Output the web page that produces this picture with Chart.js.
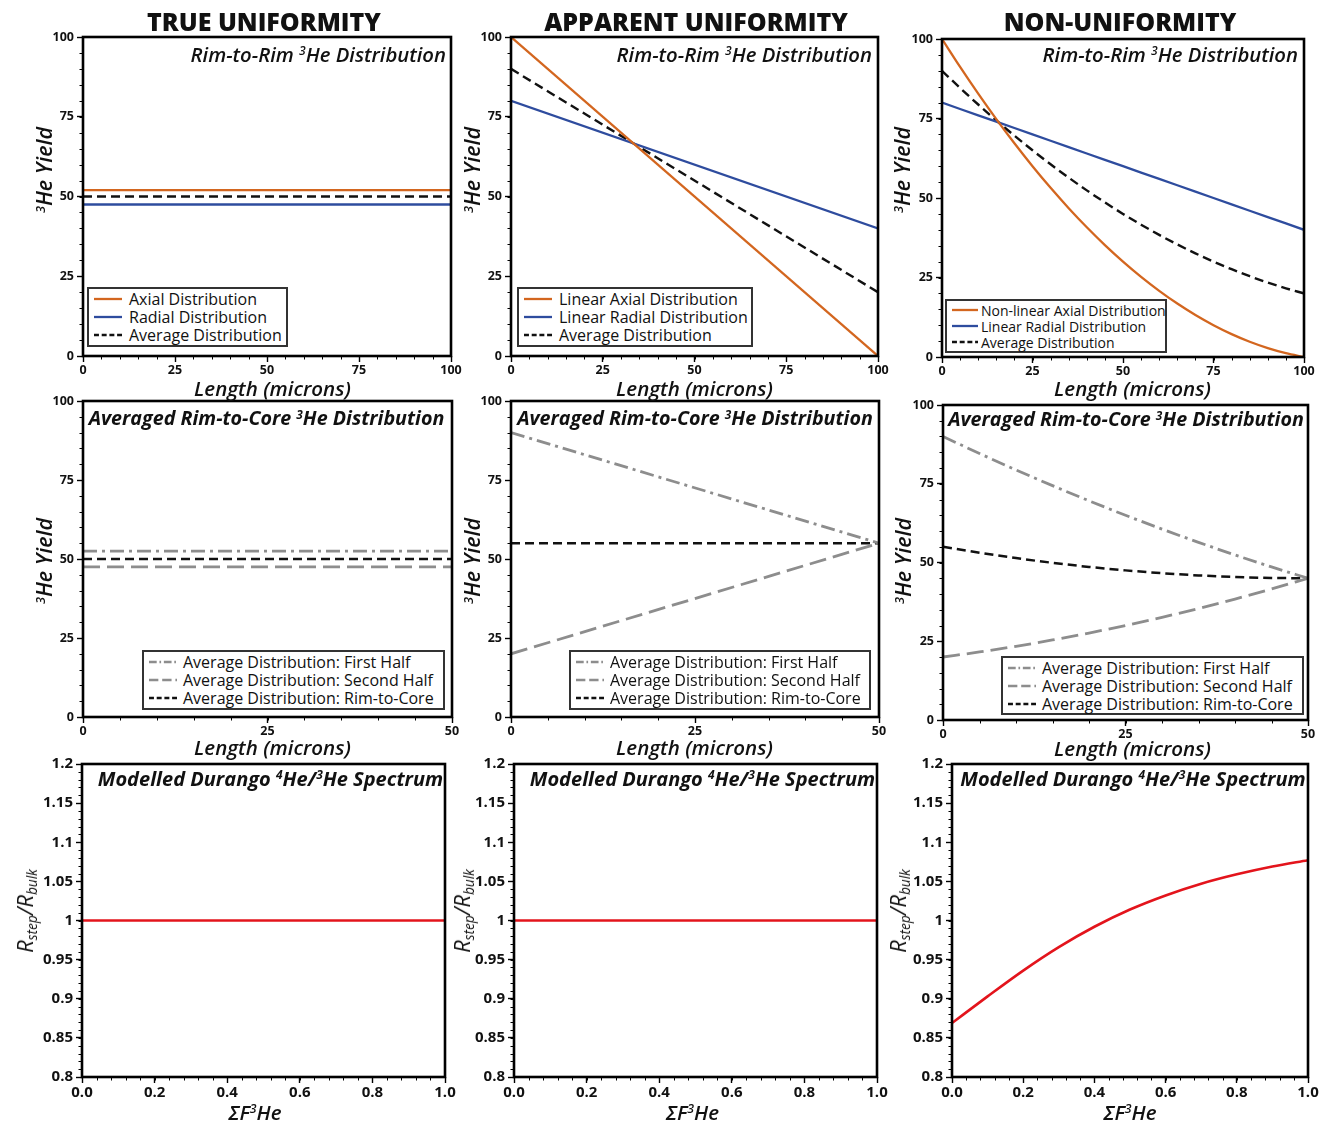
<!DOCTYPE html>
<html><head><meta charset="utf-8">
<script src="https://cdn.jsdelivr.net/npm/chart.js@4.4.1/dist/chart.umd.min.js"></script>
<style>
html,body{margin:0;padding:0;background:#fff;}
body{width:1327px;height:1123px;position:relative;overflow:hidden;font-family:'Open Sans',sans-serif;color:#111;}
.abs{position:absolute;white-space:nowrap;line-height:1;}
.c{transform:translate(-50%,-50%);}
.hdr{font-weight:800;font-size:25px;}
.ttl{font-style:italic;font-size:20px;}
.axt{font-style:italic;font-weight:600;font-size:20.5px;}
.rot{transform:translate(-50%,-50%) rotate(-90deg);}
sup{font-size:0.6em;vertical-align:0;position:relative;top:-0.55em;}
sub{font-size:0.62em;vertical-align:0;position:relative;top:0.32em;}
.leg{position:absolute;border:2px solid #333;background:#fff;box-sizing:border-box;}
.leg .row{display:flex;align-items:center;white-space:nowrap;}
.leg svg{flex:none;}
</style></head>
<body>
<script>
// ---------------- DATA ----------------
const lengthEnds100 = [0, 100];
const lengthEnds50 = [0, 50];
const lengthSteps100 = [0,5,10,15,20,25,30,35,40,45,50,55,60,65,70,75,80,85,90,95,100];
const lengthSteps50 = [0,5,10,15,20,25,30,35,40,45,50];
const fractionEnds = [0, 1];
const fractionSteps = [0,0.1,0.2,0.3,0.4,0.5,0.6,0.7,0.8,0.9,1.0];

// Row 1: rim-to-rim distributions
const trueAxial = [52, 52];
const trueRadial = [47.5, 47.5];
const trueAverage = [50, 50];
const apparentAxial = [100, 0];
const apparentRadial = [80, 40];
const apparentAverage = [90, 20];
const nonAxial = [100,91.2,82.8,74.8,67.2,60,53.2,46.8,40.8,35.2,30,25.2,20.8,16.8,13.2,10,7.2,4.8,2.8,1.2,0];
const nonRadial = [80,78,76,74,72,70,68,66,64,62,60,58,56,54,52,50,48,46,44,42,40];
const nonAverage = [90,84.6,79.4,74.4,69.6,65,60.6,56.4,52.4,48.6,45,41.6,38.4,35.4,32.6,30,27.6,25.4,23.4,21.6,20];

// Row 2: averaged rim-to-core distributions
const trueFirstHalf = [52.5, 52.5];
const trueSecondHalf = [47.5, 47.5];
const trueRimToCore = [50, 50];
const apparentFirstHalf = [90, 55];
const apparentSecondHalf = [20, 55];
const apparentRimToCore = [55, 55];
const nonFirstHalf = [90,84.6,79.4,74.4,69.6,65,60.6,56.4,52.4,48.6,45];
const nonSecondHalf = [20,21.6,23.4,25.4,27.6,30,32.6,35.4,38.4,41.6,45];
const nonRimToCore = [55,53.1,51.4,49.9,48.6,47.5,46.6,45.9,45.4,45.1,45];

// Row 3: modelled 4He/3He spectra
const trueRatio = [1, 1];
const apparentRatio = [1, 1];
const nonRatio = [0.869,0.903,0.936,0.966,0.992,1.014,1.032,1.047,1.059,1.069,1.077];

// Tick labels
const yieldTicks = ['0','25','50','75','100'];
const lengthTicks100 = ['0','25','50','75','100'];
const lengthTicks50 = ['0','25','50'];
const ratioTicks = ['0.8','0.85','0.9','0.95','1','1.05','1.1','1.15','1.2'];
const fractionTicks = ['0.0','0.2','0.4','0.6','0.8','1.0'];

// Text
const columnHeaders = ['TRUE UNIFORMITY','APPARENT UNIFORMITY','NON-UNIFORMITY'];
const legendRow1 = [
  ['Axial Distribution','Radial Distribution','Average Distribution'],
  ['Linear Axial Distribution','Linear Radial Distribution','Average Distribution'],
  ['Non-linear Axial Distribution','Linear Radial Distribution','Average Distribution']
];
const legendRow2 = ['Average Distribution: First Half','Average Distribution: Second Half','Average Distribution: Rim-to-Core'];

// ---------------- STYLES ----------------
const ORANGE = '#d3661f', BLUE = '#2e4c9e', BLACK = '#111111', GRAY = '#8d8d8d', RED = '#e3141c';
const sAxial = {borderColor: ORANGE, borderWidth: 2.3};
const sRadial = {borderColor: BLUE, borderWidth: 2.3};
const sAvg = {borderColor: BLACK, borderWidth: 2.4, borderDash: [9,5]};
const sFirst = {borderColor: GRAY, borderWidth: 2.8, borderDash: [14,5,3,5]};
const sSecond = {borderColor: GRAY, borderWidth: 2.8, borderDash: [17,7]};
const sCore = {borderColor: BLACK, borderWidth: 2.5, borderDash: [9,5]};
const sRed = {borderColor: RED, borderWidth: 2.6};

function pts(xs, ys){ return xs.map((x,i)=>({x:x, y:ys[i]})); }

const yieldAxis = {min:0, max:100, labels:yieldTicks, minor:5, size:12.5};
const ratioAxis = {min:0.8, max:1.2, labels:ratioTicks, minor:0.01, size:15};
const len100 = {min:0, max:100, labels:lengthTicks100, minor:5, size:12.5};
const len50 = {min:0, max:50, labels:lengthTicks50, minor:5, size:12.5};
const frac = {min:0, max:1, labels:fractionTicks, minor:0.04, size:15};

const panels = [
  {rect:[82.5,37,450,356], x:len100, y:yieldAxis, sets:[
    [pts(lengthEnds100,trueAxial), sAxial],[pts(lengthEnds100,trueRadial), sRadial],[pts(lengthEnds100,trueAverage), sAvg]]},
  {rect:[511,37,878,356], x:len100, y:yieldAxis, sets:[
    [pts(lengthEnds100,apparentAxial), sAxial],[pts(lengthEnds100,apparentRadial), sRadial],[pts(lengthEnds100,apparentAverage), sAvg]]},
  {rect:[942,38.5,1304,356], x:len100, y:yieldAxis, sets:[
    [pts(lengthSteps100,nonAxial), sAxial, true],[pts(lengthSteps100,nonRadial), sRadial],[pts(lengthSteps100,nonAverage), sAvg, true]]},
  {rect:[82.5,401,451,717], x:len50, y:yieldAxis, sets:[
    [pts(lengthEnds50,trueFirstHalf), sFirst],[pts(lengthEnds50,trueSecondHalf), sSecond],[pts(lengthEnds50,trueRimToCore), sCore]]},
  {rect:[511,401,879,717], x:len50, y:yieldAxis, sets:[
    [pts(lengthEnds50,apparentFirstHalf), sFirst],[pts(lengthEnds50,apparentSecondHalf), sSecond],[pts(lengthEnds50,apparentRimToCore), sCore]]},
  {rect:[943,405,1308,720], x:len50, y:yieldAxis, sets:[
    [pts(lengthSteps50,nonFirstHalf), sFirst, true],[pts(lengthSteps50,nonSecondHalf), sSecond, true],[pts(lengthSteps50,nonRimToCore), sCore, true]]},
  {rect:[82,763.5,444.5,1076.5], x:frac, y:ratioAxis, sets:[[pts(fractionEnds,trueRatio), sRed]]},
  {rect:[513.5,763.5,876.5,1076.5], x:frac, y:ratioAxis, sets:[[pts(fractionEnds,apparentRatio), sRed]]},
  {rect:[952,763.5,1308,1076.5], x:frac, y:ratioAxis, sets:[[pts(fractionSteps,nonRatio), sRed, true]]}
];

const frameAndMinor = {
  id:'frameAndMinor',
  afterDraw(chart){
    const {ctx, chartArea:a, scales:{x, y}} = chart;
    const mx = chart.options.plugins.frameAndMinor;
    ctx.save();
    ctx.strokeStyle = '#000'; ctx.lineWidth = 1;
    const n1 = Math.round((x.max - x.min)/mx.x);
    for (let i=0;i<=n1;i++){ const p = Math.round(x.getPixelForValue(x.min + i*mx.x))+0.5;
      ctx.beginPath(); ctx.moveTo(p, a.bottom); ctx.lineTo(p, a.bottom+3.5); ctx.stroke(); }
    const n2 = Math.round((y.max - y.min)/mx.y);
    for (let i=0;i<=n2;i++){ const p = Math.round(y.getPixelForValue(y.min + i*mx.y))+0.5;
      ctx.beginPath(); ctx.moveTo(a.left, p); ctx.lineTo(a.left-3.5, p); ctx.stroke(); }
    ctx.lineWidth = 2.6;
    ctx.strokeRect(a.left, a.top, a.right-a.left, a.bottom-a.top);
    ctx.restore();
  }
};

const M = {l:60, t:16, r:26, b:34};
function axisOpts(ax, horizontal){
  const vals = ax.labels.map(Number);
  return {
    type:'linear', min:ax.min, max:ax.max,
    afterBuildTicks: s => { s.ticks = vals.map(v => ({value:v})); },
    afterFit: s => { if (horizontal) s.height = M.b; else s.width = M.l; },
    ticks:{ callback:(v,i)=>ax.labels[i], autoSkip:false, maxRotation:0, color:'#111',
      font:{family:'Open Sans', size:ax.size, weight:'bold'}, padding: horizontal ? 1 : 3 },
    grid:{ display:true, drawOnChartArea:false, drawTicks:true, tickLength:6, tickColor:'#000', tickWidth:1.4 },
    border:{ display:false }
  };
}

panels.forEach((p, idx) => {
  const [l,t,r,b] = p.rect;
  const W = Math.round(r - l + M.l + M.r), H = Math.round(b - t + M.t + M.b);
  const c = document.createElement('canvas');
  c.width = W; c.height = H;
  c.style.cssText = `position:absolute;left:${l - M.l}px;top:${t - M.t}px;width:${W}px;height:${H}px;`;
  document.body.appendChild(c);
  new Chart(c, {
    type:'line',
    data:{ datasets: p.sets.map(([data, st, curved]) => Object.assign({
      data, pointRadius:0, fill:false, tension: curved ? 0.4 : 0, cubicInterpolationMode: curved ? 'monotone' : 'default'
    }, st)) },
    options:{
      responsive:false, animation:false, events:[],
      layout:{ padding:{ left:0, top:M.t, right:M.r, bottom:0 } },
      plugins:{ legend:{display:false}, tooltip:{enabled:false}, frameAndMinor:{x:p.x.minor, y:p.y.minor} },
      scales:{ x: axisOpts(p.x, true), y: axisOpts(p.y, false) }
    },
    plugins:[frameAndMinor]
  });
});

// ---------------- TEXT OVERLAYS ----------------
function txt(html, cls, x, y, style){
  const d = document.createElement('div');
  d.className = 'abs ' + cls; d.innerHTML = html;
  d.style.left = x + 'px'; d.style.top = y + 'px';
  if (style) d.style.cssText += style;
  document.body.appendChild(d); return d;
}
const hdrX = [264, 696, 1120];
columnHeaders.forEach((h,i)=> txt(h, 'hdr c', hdrX[i], 21));

// in-plot titles
const rimTitle = 'Rim-to-Rim <sup>3</sup>He Distribution';
[[446,54],[872,54],[1298,54]].forEach(([x,y]) => txt(rimTitle, 'ttl', x, y, 'transform:translate(-100%,-50%);font-weight:600;font-size:20.3px;'));
const coreTitle = 'Averaged Rim-to-Core <sup>3</sup>He Distribution';
[[266.5,418],[695,418],[1126,419]].forEach(([x,y]) => txt(coreTitle, 'ttl c', x, y, 'font-weight:700;font-size:19.7px;'));
const specTitle = 'Modelled Durango <sup>4</sup>He/<sup>3</sup>He Spectrum';
[[270.5,779],[702.5,779],[1133,779]].forEach(([x,y]) => txt(specTitle, 'ttl c', x, y, 'font-weight:700;font-size:20px;'));

// axis titles
const lenTitle = 'Length (microns)';
[[272.5,387.5],[694.5,387.5],[1132.5,387.5],[272.5,747],[694.5,747],[1132.5,748]].forEach(([x,y]) => txt(lenTitle,'axt c',x,y));
const fTitle = '&Sigma;F<sup>3</sup>He';
[[255,1112],[692.5,1112],[1130,1112]].forEach(([x,y]) => txt(fTitle,'axt c',x,y));
const yTitle = '<sup>3</sup>He Yield';
[[44,170],[472,170],[902,170],[44,561],[472,561],[903,561]].forEach(([x,y]) => txt(yTitle,'axt rot',x,y,'font-size:21.5px;'));
const rTitle = 'R<sub>step</sub>/R<sub>bulk</sub>';
[[24,911],[461,911],[897,911]].forEach(([x,y]) => txt(rTitle,'axt rot',x,y,'font-weight:400;font-size:22px;'));

// legends
function sample(st, w){
  const dash = st.borderDash ? `stroke-dasharray="${st.borderDash.map(v=>v*0.55).join(',')}"` : '';
  return `<svg width="${w}" height="10"><line x1="0" y1="5" x2="${w}" y2="5" stroke="${st.borderColor}" stroke-width="${Math.min(st.borderWidth,2.6)}" ${dash}/></svg>`;
}
function legend(box, labels, styles, font, rowH, lineW, gap){
  const d = document.createElement('div');
  d.className = 'leg';
  const [x,y,w,h] = box;
  d.style.cssText += `left:${x}px;top:${y}px;width:${w}px;height:${h}px;padding:${(h-4-rowH*3)/2}px 0 0 5px;font-size:${font}px;`;
  d.innerHTML = labels.map((lab,i)=>`<div class="row" style="height:${rowH}px;">${sample(styles[i], lineW)}<span style="margin-left:${gap}px;">${lab}</span></div>`).join('');
  document.body.appendChild(d);
}
const r1Styles = [sAxial, sRadial, sAvg];
const r2Styles = [sFirst, sSecond, sCore];
legend([87,287,201,60], legendRow1[0], r1Styles, 16, 18, 28, 7);
legend([517,287,236,60], legendRow1[1], r1Styles, 16, 18, 28, 7);
legend([945,299,222,54], legendRow1[2], r1Styles, 14, 16, 26, 3);
legend([142,650,303,60], legendRow2, r2Styles, 16, 18, 28, 6);
legend([569,650,302,60], legendRow2, r2Styles, 16, 18, 28, 6);
legend([1001,656,303,59], legendRow2, r2Styles, 16, 18, 28, 6);
</script>
</body></html>
